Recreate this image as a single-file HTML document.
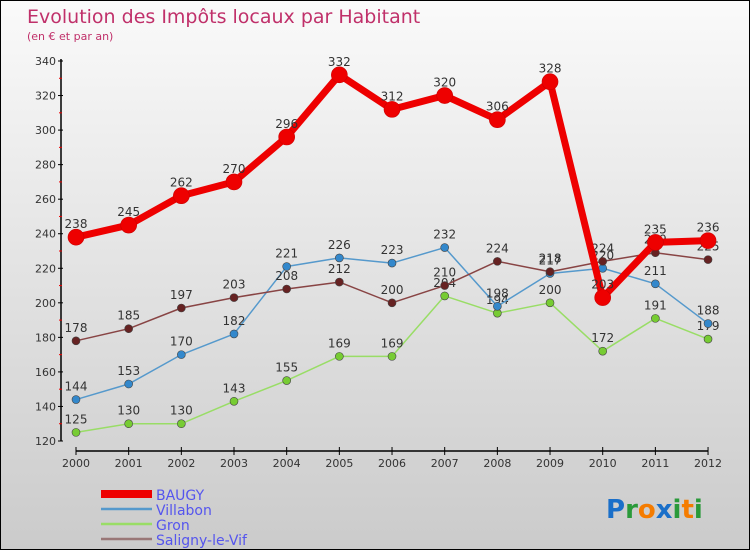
<!DOCTYPE html>
<html><head><meta charset="utf-8"><style>
body{margin:0}
#c{width:750px;height:550px;position:relative;box-sizing:border-box;border:1px solid #000;background:linear-gradient(#fafafa,#cbcbcb);font-family:"DejaVu Sans","Liberation Sans",sans-serif;overflow:hidden}
svg{position:absolute;left:0;top:0}
</style></head><body>
<div id="c">
<svg id="s" width="750" height="550">
<text x="26" y="22" font-size="19" fill="#c0306a">Evolution des Impôts locaux par Habitant</text>
<text x="26" y="39" font-size="11" fill="#c0306a">(en € et par an)</text>
<g id="g"></g>
<text x="605" y="517" font-size="26" font-weight="bold"><tspan fill="#1a6fc9">P</tspan><tspan fill="#2a9a3a">r</tspan><tspan fill="#f57c00">o</tspan><tspan fill="#1a6fc9">x</tspan><tspan fill="#2a9a3a">i</tspan><tspan fill="#f57c00">t</tspan><tspan fill="#2a9a3a">i</tspan></text>
</svg></div>
<script>
const years=[2000,2001,2002,2003,2004,2005,2006,2007,2008,2009,2010,2011,2012];
const baugy=[238,245,262,270,296,332,312,320,306,328,203,235,236];
const villabon=[144,153,170,182,221,226,223,232,198,217,220,211,188];
const gron=[125,130,130,143,155,169,169,204,194,200,172,191,179];
const saligny=[178,185,197,203,208,212,200,210,224,218,224,229,225];
const yTicks=[120,140,160,180,200,220,240,260,280,300,320,340];
const NS="http://www.w3.org/2000/svg",g=document.getElementById('g');
const X=i=>75+i*52.67, Y=v=>440-(v-120)*380/220;
function el(t,a){const e=document.createElementNS(NS,t);for(const k in a)e.setAttribute(k,a[k]);g.appendChild(e);return e;}
let e=el('line',{x1:60,y1:58,x2:60,y2:440,stroke:'#000','stroke-width':1.5});

e=el('line',{x1:75,y1:450,x2:707,y2:450,stroke:'#000','stroke-width':1.5});

yTicks.forEach(v=>{const y=Y(v);
 e=el('line',{x1:57,y1:y,x2:62,y2:y,stroke:'#000'});
 if(v<340){e=el('line',{x1:58,y1:Y(v+10),x2:61,y2:Y(v+10),stroke:'#e00'});}
 e=el('text',{x:55,y:y+4,'font-size':11,fill:'#333','text-anchor':'end'});e.textContent=v;
 });
years.forEach((yr,i)=>{
 e=el('line',{x1:X(i),y1:446,x2:X(i),y2:454,stroke:'#000'});
 e=el('text',{x:X(i),y:466,'font-size':11,fill:'#333','text-anchor':'middle'});e.textContent=yr;
 });
const series=[['gron',gron,'#99dd66','#77cc33',1.5,4],['villabon',villabon,'#5599cc','#3388cc',1.5,4],['saligny',saligny,'#884444','#662222',1.5,4],['baugy',baugy,'#ee0000','#ee0000',7,8]];
series.forEach(([n,d,lc,mc,w,r])=>{
 e=el('polyline',{points:d.map((v,i)=>X(i)+','+Y(v)).join(' '),fill:'none',stroke:lc,'stroke-width':w,'stroke-linejoin':'round'});
 
 d.forEach((v,i)=>{e=el('circle',{cx:X(i),cy:Y(v),r:r,fill:mc,stroke:n=='baugy'?'#cc0000':'#444','stroke-width':0.6});
  
  e=el('text',{x:X(i),y:Y(v)-9,'font-size':12,fill:'#333','text-anchor':'middle'});e.textContent=v;
  });});
const leg=[['BAUGY','#ee0000',8],['Villabon','#5599cc',2.5],['Gron','#99dd66',2.5],['Saligny-le-Vif','#997777',2.5]];
leg.forEach(([t,c,w],i)=>{const y=493+i*15;
 e=el('line',{x1:100,y1:y,x2:151,y2:y,stroke:c,'stroke-width':w});
 e=el('text',{x:155,y:y+6,'font-size':14,fill:'#5555ee'});e.textContent=t;
 });
</script></body></html>
